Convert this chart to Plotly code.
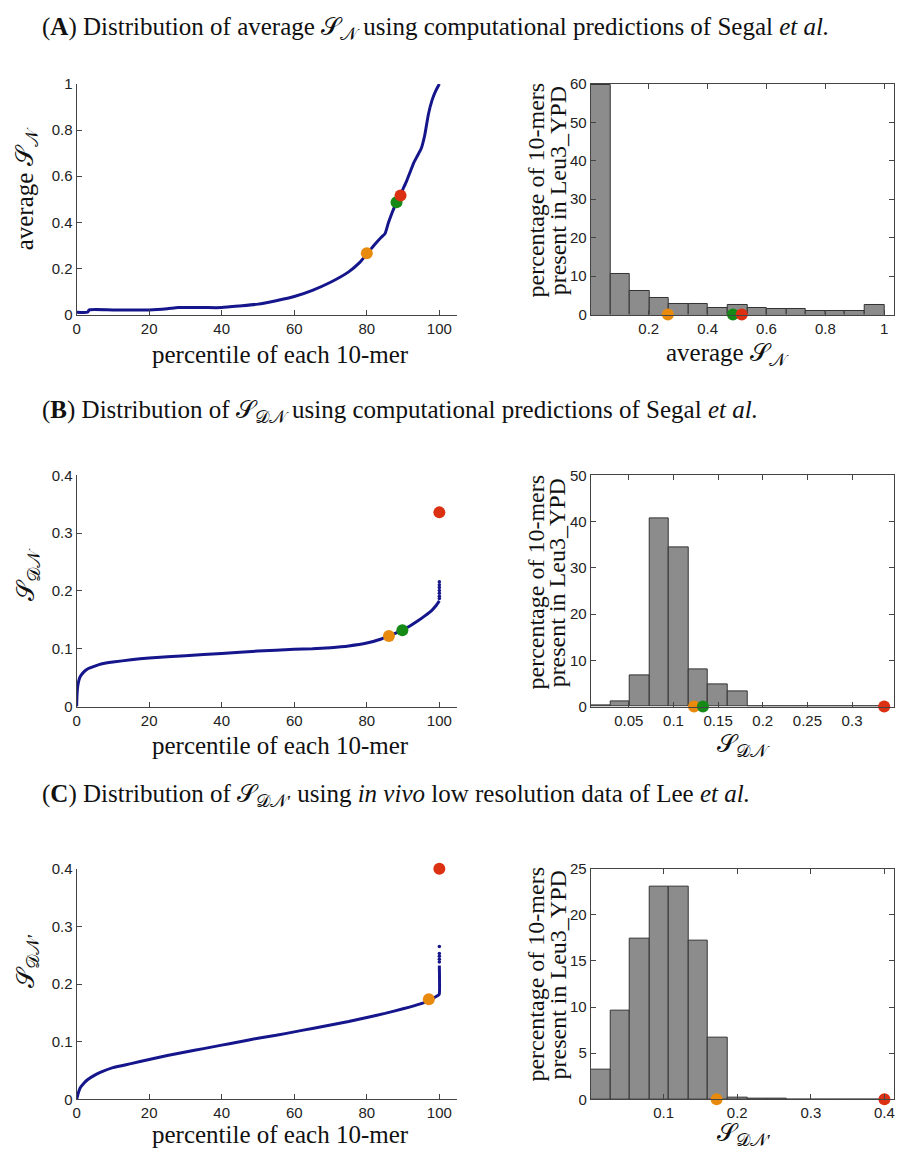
import numpy as np
import plotly.graph_objects as go

# page body has an 8px default margin; keep the figure inside the 904x1159 window
OFF = 8
W, H = 904 - 2 * OFF, 1159 - 2 * OFF

# ---------------- data ----------------
# Panel A: average S_N vs percentile
a_pct = [0, 3, 3.5, 10, 20, 25, 28, 35, 40, 45, 50, 55, 60, 65, 70, 75, 78, 80, 82, 84,
         85, 86, 88, 89, 90, 91, 92, 93, 94, 95, 96, 97, 98, 99, 100]
a_val = [0.01, 0.01, 0.02, 0.02, 0.02, 0.025, 0.03, 0.03, 0.03, 0.037, 0.045, 0.06, 0.078,
         0.105, 0.14, 0.185, 0.225, 0.262, 0.3, 0.335, 0.35, 0.4, 0.48, 0.51, 0.545, 0.58,
         0.62, 0.66, 0.69, 0.72, 0.78, 0.87, 0.93, 0.97, 1.0]
a_pts_x = [80.0, 88.2, 89.3]
a_pts_y = [0.266, 0.487, 0.516]
a_hist_counts = [59.7, 10.6, 6.0, 4.2, 2.7, 2.7, 1.6, 2.5, 1.6, 1.4, 1.4, 0.8, 0.9, 0.9, 2.5]
a_hist_lo, a_hist_hi = 0.003, 1.0
a_hist_pts = [0.265, 0.486, 0.516]

# Panel B: S_DN vs percentile
b_pct = [0, 0.1, 0.3, 0.6, 1, 2, 3, 5, 7, 10, 15, 20, 30, 40, 50, 60, 65, 70, 75, 80, 84,
         86, 88, 90, 92, 94, 96, 98, 99, 100]
b_val = [0.0, 0.02, 0.035, 0.045, 0.052, 0.06, 0.065, 0.07, 0.074, 0.077, 0.081, 0.084,
         0.088, 0.092, 0.096, 0.099, 0.1, 0.102, 0.105, 0.11, 0.117, 0.122, 0.127, 0.133,
         0.14, 0.148, 0.157, 0.167, 0.174, 0.183]
b_tail = [0.187, 0.191, 0.196, 0.201, 0.206, 0.211, 0.216]
b_pts_x = [86.1, 89.8, 100.0]
b_pts_y = [0.122, 0.132, 0.336]
b_hist_counts = [0.2, 1.1, 6.7, 40.6, 34.4, 8.0, 4.9, 3.2, 0.1, 0.05, 0.0, 0.0, 0.0, 0.0, 0.1]
b_hist_lo, b_hist_hi = 0.0073, 0.336
b_hist_pts = [0.123, 0.133, 0.336]

# Panel C: S_DN' vs percentile
c_pct = [0, 0.5, 1, 2, 3, 5, 7, 10, 15, 20, 25, 30, 35, 40, 45, 50, 55, 60, 65, 70, 75, 80,
         85, 90, 95, 97, 99, 99.8, 100, 100]
c_val = [0.0, 0.012, 0.02, 0.028, 0.034, 0.042, 0.048, 0.055, 0.062, 0.069, 0.076, 0.082,
         0.088, 0.094, 0.1, 0.106, 0.111, 0.117, 0.123, 0.129, 0.135, 0.142, 0.149, 0.157,
         0.166, 0.171, 0.178, 0.181, 0.183, 0.232]
c_tail = [0.238, 0.243, 0.248, 0.253, 0.265]
c_pts_x = [97.1, 100.0]
c_pts_y = [0.1735, 0.4]
c_hist_counts = [3.2, 9.6, 17.4, 23.0, 23.1, 17.2, 6.7, 0.2, 0.07, 0.03, 0.0, 0.0, 0.0, 0.0, 0.0]
c_hist_lo, c_hist_hi = 0.001, 0.4
c_hist_pts = [0.172, 0.4]

# ---------------- styles ----------------
NAVY = "rgb(22,22,140)"
ORANGE = "rgb(232,138,14)"
GREEN = "rgb(22,138,22)"
RED = "rgb(220,48,18)"
BAR = "rgb(140,140,140)"
AXC = "#444444"
SERIF = "Liberation Serif"
SANS = "Liberation Sans"


def px(x):
    return (x - OFF) / W


def py(y):
    return 1 - (y - OFF) / H


fig = go.Figure()


def add_curve(idx, xs, ys, tail, pts_x, pts_y, colors):
    ax = "" if idx == 1 else str(idx)
    fig.add_trace(go.Scatter(x=xs, y=ys, mode="lines",
                             line=dict(color=NAVY, width=3, shape="spline", smoothing=0.5),
                             xaxis="x" + ax, yaxis="y" + ax, showlegend=False))
    if tail:
        fig.add_trace(go.Scatter(x=[100] * len(tail), y=tail, mode="markers",
                                 marker=dict(color=NAVY, size=3.5),
                                 xaxis="x" + ax, yaxis="y" + ax, showlegend=False))
    fig.add_trace(go.Scatter(x=pts_x, y=pts_y, mode="markers",
                             marker=dict(color=colors, size=12, line=dict(width=0)),
                             xaxis="x" + ax, yaxis="y" + ax, showlegend=False, cliponaxis=False))


def add_hist(idx, counts, lo, hi, pts, colors):
    ax = str(idx)
    n = len(counts)
    edges = np.linspace(lo, hi, n + 1)
    centers = (edges[:-1] + edges[1:]) / 2
    w = edges[1] - edges[0]
    fig.add_trace(go.Bar(x=centers, y=counts, width=w,
                         marker=dict(color=BAR, line=dict(color="rgb(50,50,50)", width=1)),
                         xaxis="x" + ax, yaxis="y" + ax, showlegend=False))
    fig.add_trace(go.Scatter(x=pts, y=[0] * len(pts), mode="markers",
                             marker=dict(color=colors, size=12, line=dict(width=0)),
                             xaxis="x" + ax, yaxis="y" + ax, showlegend=False, cliponaxis=False))


add_curve(1, a_pct, a_val, [], a_pts_x, a_pts_y, [ORANGE, GREEN, RED])
add_hist(2, a_hist_counts, a_hist_lo, a_hist_hi, a_hist_pts, [ORANGE, GREEN, RED])
add_curve(3, b_pct, b_val, b_tail, b_pts_x, b_pts_y, [ORANGE, GREEN, RED])
add_hist(4, b_hist_counts, b_hist_lo, b_hist_hi, b_hist_pts, [ORANGE, GREEN, RED])
add_curve(5, c_pct, c_val, c_tail, c_pts_x, c_pts_y, [ORANGE, RED])
add_hist(6, c_hist_counts, c_hist_lo, c_hist_hi, c_hist_pts, [ORANGE, RED])

tickfont = dict(family=SANS, size=15, color="#222222")


def axis(domain, rng, tickvals, ticktext, anchor, box=False):
    d = dict(domain=domain, range=rng, tickvals=tickvals, ticktext=ticktext, anchor=anchor,
             showline=True, linecolor=AXC, linewidth=1, ticks="inside", ticklen=5,
             tickcolor=AXC, tickfont=tickfont, showgrid=False, zeroline=False,
             fixedrange=True)
    if box:
        d["mirror"] = "ticks"
    return d


left_dom = [px(73), px(456)]
right_dom = [px(590), min(1.0, px(895))]
rows = [(310, 76), (708, 473.3), (1106.7, 872.5)]

pct_ticks = [0, 20, 40, 60, 80, 100]
pct_text = [str(v) for v in pct_ticks]

layout = dict(width=W, height=H, margin=dict(l=0, r=0, t=0, b=0),
              plot_bgcolor="white", paper_bgcolor="white", bargap=0)

# Row A
layout["xaxis"] = axis(left_dom, [0, 105], pct_ticks, pct_text, "y")
layout["yaxis"] = axis([py(rows[0][0]), py(rows[0][1])], [0, 1],
                       [0, 0.2, 0.4, 0.6, 0.8, 1], ["0", "0.2", "0.4", "0.6", "0.8", "1"], "x")
layout["xaxis2"] = axis(right_dom, [a_hist_lo, 1.033], [0.2, 0.4, 0.6, 0.8, 1],
                        ["0.2", "0.4", "0.6", "0.8", "1"], "y2", box=True)
layout["yaxis2"] = axis([py(rows[0][0]), py(rows[0][1])], [0, 60],
                        [0, 10, 20, 30, 40, 50, 60], ["0", "10", "20", "30", "40", "50", "60"], "x2", box=True)
# Row B
layout["xaxis3"] = axis(left_dom, [0, 105], pct_ticks, pct_text, "y3")
layout["yaxis3"] = axis([py(rows[1][0]), py(rows[1][1])], [0, 0.4],
                        [0, 0.1, 0.2, 0.3, 0.4], ["0", "0.1", "0.2", "0.3", "0.4"], "x3")
layout["xaxis4"] = axis(right_dom, [b_hist_lo, 0.347], [0.05, 0.1, 0.15, 0.2, 0.25, 0.3],
                        ["0.05", "0.1", "0.15", "0.2", "0.25", "0.3"], "y4", box=True)
layout["yaxis4"] = axis([py(rows[1][0]), py(rows[1][1])], [0, 50],
                        [0, 10, 20, 30, 40, 50], ["0", "10", "20", "30", "40", "50"], "x4", box=True)
# Row C
layout["xaxis5"] = axis(left_dom, [0, 105], pct_ticks, pct_text, "y5")
layout["yaxis5"] = axis([py(rows[2][0]), py(rows[2][1])], [0, 0.4],
                        [0, 0.1, 0.2, 0.3, 0.4], ["0", "0.1", "0.2", "0.3", "0.4"], "x5")
layout["xaxis6"] = axis(right_dom, [c_hist_lo, 0.413], [0.1, 0.2, 0.3, 0.4],
                        ["0.1", "0.2", "0.3", "0.4"], "y6", box=True)
layout["yaxis6"] = axis([py(rows[2][0]), py(rows[2][1])], [0, 25],
                        [0, 5, 10, 15, 20, 25], ["0", "5", "10", "15", "20", "25"], "x6", box=True)

fig.update_layout(**layout)

S = "𝒮"
N = "𝒩"
D = "𝒟"


def ann(text, x, y, size=25, angle=0, xanchor="center"):
    fig.add_annotation(text=text, x=px(x), y=py(y), xref="paper", yref="paper",
                       showarrow=False, textangle=angle, xanchor=xanchor, yanchor="middle",
                       align="center", font=dict(family=SERIF, size=size, color="#111111"))


# Panel titles
ann("(<b>A</b>) Distribution of average " + S + "<sub>" + N + "</sub> using computational predictions of Segal <i>et al.</i>",
    36, 20, xanchor="left")
ann("(<b>B</b>) Distribution of " + S + "<sub>" + D + N + "</sub> using computational predictions of Segal <i>et al.</i>",
    36, 408, xanchor="left")
ann("(<b>C</b>) Distribution of " + S + "<sub>" + D + N + "′</sub> using <i>in vivo</i> low resolution data of Lee <i>et al.</i>",
    36, 798, xanchor="left")

# x axis titles
for ybase in [351, 748, 1142]:
    ann("percentile of each 10-mer", 278, ybase)
ann("average " + S + "<sub>" + N + "</sub>", 728, 351)
ann(S + "<sub>" + D + N + "</sub>", 744, 748)
ann(S + "<sub>" + D + N + "′</sub>", 744, 1142)

# y axis titles (left)
ann("average " + S + "<sub>" + N + "</sub>", 22, 182, angle=-90)
ann(S + "<sub>" + D + N + "</sub>", 24, 574, angle=-90)
ann(S + "<sub>" + D + N + "′</sub>", 24, 966, angle=-90)

# y axis titles (histograms), two lines
for yc in [184, 582, 980]:
    ann("percentage of 10-mers", 535, yc, size=24, angle=-90)
    ann("present in Leu3_YPD", 557, yc, size=24, angle=-90)

fig.write_html("out.html")
